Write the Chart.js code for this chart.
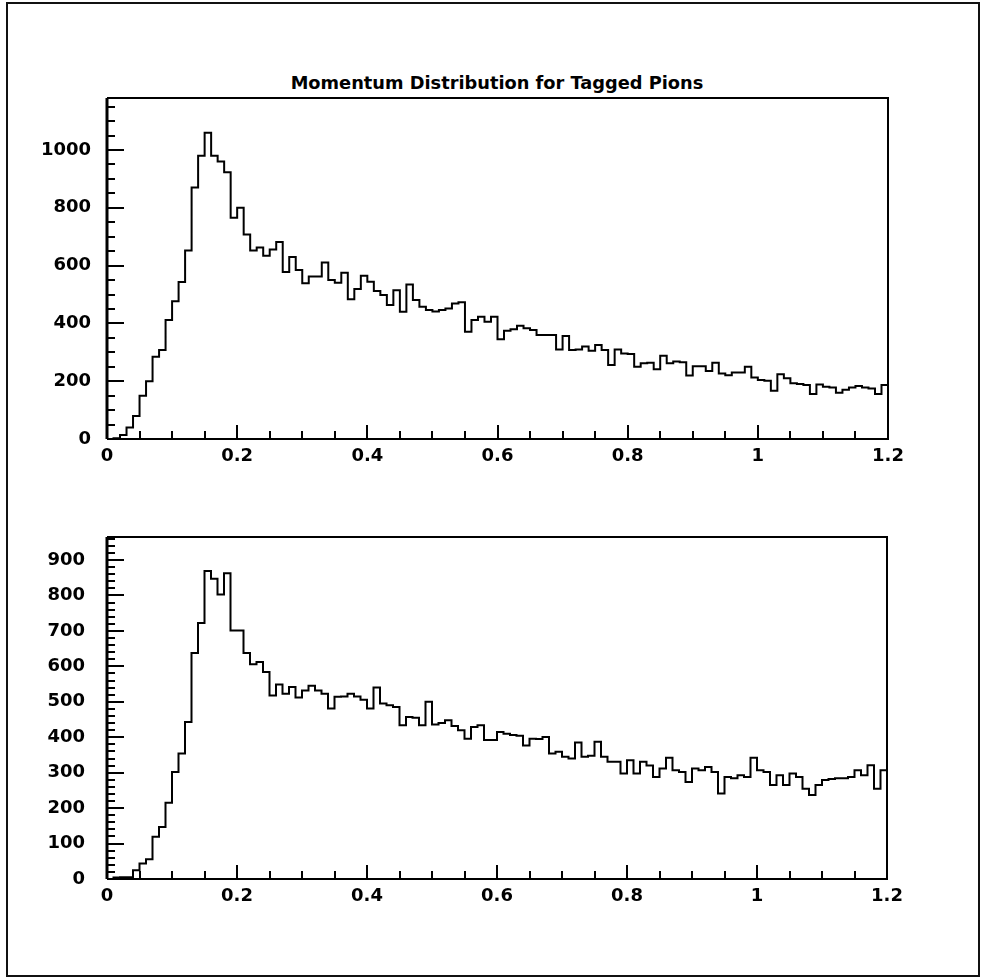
<!DOCTYPE html>
<html>
<head>
<meta charset="utf-8">
<script src="https://cdn.jsdelivr.net/npm/chart.js@4.4.0/dist/chart.umd.min.js"></script>
<style>
  body { margin: 0; background: #fff; }
  #page { position: relative; width: 983px; height: 980px; overflow: hidden; background: #fff; }
  #frame { position: absolute; left: 6px; top: 2px; width: 970px; height: 971px; border: 2px solid #111; }
  #title { position: absolute; left: 0; width: 994px; top: 72px; line-height: 22px; text-align: center;
           font-family: "DejaVu Sans"; font-weight: bold; font-size: 17.8px; color: #000; }
  canvas { position: absolute; left: 0; }
</style>
</head>
<body>
<div id="page">
  <div id="frame"></div>
  <div id="title">Momentum Distribution for Tagged Pions</div>
  <canvas id="topChart" width="983" height="480" style="top:0px"></canvas>
  <canvas id="botChart" width="983" height="500" style="top:480px"></canvas>
</div>

<script>
// momentum bins: 120 bins of 0.01 from 0 to 1.2
var binLow = 0;
var binWidth = 0.01;

// upper histogram (counts per bin)
var topCounts = [
  0, 3, 14, 40, 80, 150, 200, 285, 308, 412,
  477, 543, 652, 870, 980, 1060, 980, 960, 923, 766,
  800, 708, 652, 663, 634, 656, 682, 578, 630, 585,
  539, 562, 562, 611, 550, 541, 575, 484, 519, 565,
  544, 512, 498, 464, 515, 440, 535, 481, 458, 446,
  441, 446, 452, 469, 473, 371, 412, 423, 406, 423,
  345, 375, 380, 392, 383, 377, 360, 360, 360, 310,
  356, 308, 310, 320, 305, 325, 308, 256, 310, 296,
  294, 250, 262, 264, 241, 288, 262, 268, 266, 220,
  252, 252, 235, 264, 227, 221, 230, 230, 250, 213,
  204, 202, 167, 224, 210, 193, 190, 187, 156, 189,
  181, 178, 160, 170, 178, 183, 178, 175, 156, 187
];

// lower histogram
var botCounts = [
  0, 4, 5, 5, 25, 44, 56, 119, 147, 215,
  302, 354, 443, 638, 722, 869, 847, 803, 863, 701,
  701, 638, 606, 612, 584, 518, 549, 523, 542, 512,
  532, 545, 532, 523, 481, 514, 515, 523, 515, 506,
  481, 540, 495, 490, 485, 434, 457, 455, 434, 500,
  436, 440, 448, 432, 420, 396, 429, 434, 392, 392,
  415, 410, 406, 404, 377, 396, 395, 401, 354, 359,
  345, 340, 385, 345, 348, 387, 345, 331, 331, 298,
  335, 298, 331, 320, 288, 312, 342, 307, 302, 274,
  312, 307, 316, 302, 241, 288, 284, 293, 288, 342,
  307, 302, 265, 293, 265, 298, 288, 255, 237, 265,
  279, 282, 284, 284, 288, 307, 293, 321, 255, 307
];

var xTickValues = [0, 0.2, 0.4, 0.6, 0.8, 1, 1.2];
var topYTicks = [0, 200, 400, 600, 800, 1000];
var botYTicks = [0, 100, 200, 300, 400, 500, 600, 700, 800, 900];

function histPoints(counts) {
  var pts = counts.map(function (c, i) {
    return { x: +(binLow + i * binWidth).toFixed(2), y: c };
  });
  pts.push({ x: +(binLow + counts.length * binWidth).toFixed(2), y: counts[counts.length - 1] });
  return pts;
}

// inward tick marks + frame, drawn through the chart scales
var panelPlugin = {
  id: 'panel',
  afterDraw: function (chart, args, o) {
    var ctx = chart.ctx, a = chart.chartArea;
    var xs = chart.scales.x, ys = chart.scales.y;
    ctx.save();
    ctx.strokeStyle = '#000';
    ctx.lineWidth = 2;
    ctx.beginPath();
    var k, v, p, major;
    for (k = 0; k * o.xMinor <= xs.max + 1e-9; k++) {
      v = k * o.xMinor;
      p = Math.round(xs.getPixelForValue(v));
      major = Math.abs(v / o.xMajor - Math.round(v / o.xMajor)) < 1e-6;
      ctx.moveTo(p, a.bottom);
      ctx.lineTo(p, a.bottom - (major ? 14 : 8));
    }
    for (k = 0; k * o.yMinor <= ys.max; k++) {
      v = k * o.yMinor;
      p = Math.round(ys.getPixelForValue(v));
      major = v % o.yMajor === 0;
      ctx.moveTo(a.left, p);
      ctx.lineTo(a.left + (major ? 17 : 8), p);
    }
    ctx.stroke();
    // frame
    ctx.beginPath();
    ctx.moveTo(a.left, a.top);
    ctx.lineTo(a.right, a.top);
    ctx.lineTo(a.right, a.bottom);
    ctx.lineTo(a.left, a.bottom);
    ctx.stroke();
    ctx.lineWidth = 3;
    ctx.beginPath();
    ctx.moveTo(a.left, a.top);
    ctx.lineTo(a.left, a.bottom);
    ctx.stroke();
    ctx.restore();
  }
};

function makeChart(id, counts, yMax, yTicks, cfg) {
  return new Chart(document.getElementById(id), {
    type: 'line',
    data: {
      datasets: [{
        data: histPoints(counts),
        stepped: true,
        borderColor: '#000',
        borderWidth: 2,
        pointRadius: 0,
        fill: false
      }]
    },
    options: {
      responsive: false,
      animation: false,
      layout: { padding: { top: cfg.padTop, right: cfg.padRight, left: 0, bottom: 0 } },
      plugins: {
        legend: { display: false },
        tooltip: { enabled: false },
        panel: cfg.ticks
      },
      scales: {
        x: {
          type: 'linear',
          min: 0,
          max: 1.2,
          afterBuildTicks: function (s) { s.ticks = xTickValues.map(function (t) { return { value: t }; }); },
          afterFit: function (s) { s.height = cfg.xHeight; },
          grid: { display: false, drawTicks: false },
          border: { display: false },
          ticks: {
            color: '#000',
            padding: 7,
            maxRotation: 0,
            autoSkip: false,
            font: { family: 'DejaVu Sans', weight: 'bold', size: 18 },
            callback: function (v) { return String(v); }
          }
        },
        y: {
          min: 0,
          max: yMax,
          afterBuildTicks: function (s) { s.ticks = yTicks.map(function (t) { return { value: t }; }); },
          afterFit: function (s) { s.width = 107; },
          grid: { display: false, drawTicks: false },
          border: { display: false },
          ticks: {
            color: '#000',
            padding: cfg.yPad,
            font: { family: 'DejaVu Sans', weight: 'bold', size: 18 },
            callback: function (v) { return String(v); }
          }
        }
      }
    },
    plugins: [panelPlugin]
  });
}

makeChart('topChart', topCounts, 1180, topYTicks, {
  padTop: 98, padRight: 95, xHeight: 41, yPad: 16,
  ticks: { xMinor: 0.05, xMajor: 0.2, yMinor: 50, yMajor: 200 }
});

makeChart('botChart', botCounts, 965, botYTicks, {
  padTop: 57, padRight: 96, xHeight: 101, yPad: 22,
  ticks: { xMinor: 0.05, xMajor: 0.2, yMinor: 20, yMajor: 100 }
});
</script>
</body>
</html>
